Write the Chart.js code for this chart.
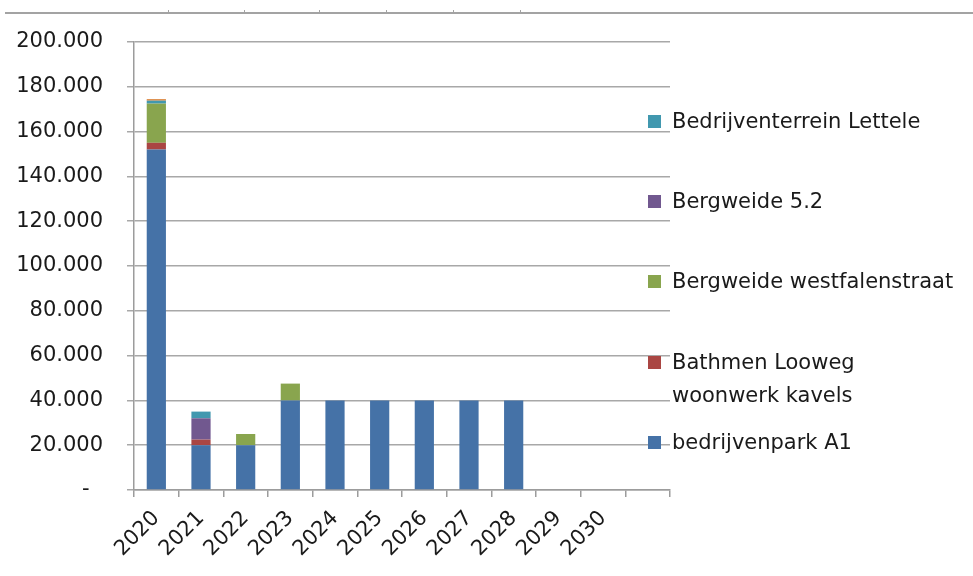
<!DOCTYPE html>
<html>
<head>
<meta charset="utf-8">
<script src="https://cdn.jsdelivr.net/npm/chart.js@4/dist/chart.umd.min.js"></script>
<style>
  html, body { margin: 0; padding: 0; background: #ffffff; }
  #wrap { position: relative; width: 973px; height: 576px; overflow: hidden; }
  #chart { position: absolute; left: 0; top: 0; }
  #legend { position: absolute; left: 0; top: 0; width: 973px; height: 576px; pointer-events: none;
            font-family: "DejaVu Sans", sans-serif; font-size: 21px; color: #1a1a1a; }
  .item { position: absolute; left: 648px; width: 318px; }
  .box { position: absolute; left: 0; width: 13px; height: 13px; }
  .txt { position: absolute; left: 24px; width: 288px; line-height: 33px; }
</style>
</head>
<body>
<div id="wrap">
  <canvas id="chart" width="973" height="576"></canvas>
  <div id="legend"></div>
</div>
<script>
// Jaren op de x-as (laatste vak is leeg)
const years = ['2020', '2021', '2022', '2023', '2024', '2025', '2026', '2027', '2028', '2029', '2030', ''];

// Uitgifte per locatie (m²)
const bedrijvenparkA1 = [152000, 20000, 20000, 40000, 40000, 40000, 40000, 40000, 40000, 0, 0, 0];
const bathmenLooweg = [3000, 2500, 0, 0, 0, 0, 0, 0, 0, 0, 0, 0];
const bergweideWestfalenstraat = [17500, 0, 5000, 7500, 0, 0, 0, 0, 0, 0, 0, 0];
const bergweide52 = [0, 9500, 0, 0, 0, 0, 0, 0, 0, 0, 0, 0];
const lettele = [1300, 3000, 0, 0, 0, 0, 0, 0, 0, 0, 0, 0];
const overig = [700, 0, 0, 0, 0, 0, 0, 0, 0, 0, 0, 0];

// As-instellingen
const yMax = 200000;
const yStep = 20000;

const series = [
  { label: 'bedrijvenpark A1', data: bedrijvenparkA1, color: '#4572A7', legend: true },
  { label: 'Bathmen Looweg woonwerk kavels', data: bathmenLooweg, color: '#AA4643', legend: true },
  { label: 'Bergweide westfalenstraat', data: bergweideWestfalenstraat, color: '#89A54E', legend: true },
  { label: 'Bergweide 5.2', data: bergweide52, color: '#71588F', legend: true },
  { label: 'Bedrijventerrein Lettele', data: lettele, color: '#4198AF', legend: true },
  { label: 'overig', data: overig, color: '#DB843D', legend: false }
];

const FONT = '"DejaVu Sans", sans-serif';

function formatNL(v) {
  if (v === 0) return '-  ';
  return v.toLocaleString('nl-NL');
}

// Dunne grijze lijn langs de bovenrand
const topRule = {
  id: 'topRule',
  afterDraw(chart) {
    const ctx = chart.ctx;
    ctx.save();
    ctx.strokeStyle = '#a3a3a3';
    ctx.lineWidth = 2;
    ctx.beginPath();
    ctx.moveTo(5, 13);
    ctx.lineTo(973, 13);
    ctx.stroke();
    ctx.lineWidth = 1;
    [168, 244, 319, 386, 453, 520].forEach(x => {
      ctx.beginPath();
      ctx.moveTo(x + 0.5, 10);
      ctx.lineTo(x + 0.5, 12);
      ctx.stroke();
    });
    ctx.restore();
  }
};

const chart = new Chart(document.getElementById('chart'), {
  type: 'bar',
  data: {
    labels: years,
    datasets: series.map(s => ({
      label: s.label,
      data: s.data,
      backgroundColor: s.color,
      borderWidth: 0,
      barPercentage: 0.43,
      categoryPercentage: 1.0
    }))
  },
  options: {
    responsive: false,
    animation: false,
    events: [],
    layout: { padding: { left: 0, top: 42, right: 303, bottom: 0 } },
    plugins: { legend: { display: false }, tooltip: { enabled: false } },
    scales: {
      x: {
        stacked: true,
        grid: { drawOnChartArea: false, drawTicks: true, tickLength: 7, color: '#9c9c9c', lineWidth: 1.5, offset: true },
        border: { color: '#9c9c9c', width: 1.5 },
        ticks: {
          font: { family: FONT, size: 21 },
          color: '#1a1a1a',
          minRotation: 45,
          maxRotation: 45,
          padding: 9,
          autoSkip: false
        },
        afterFit(scale) { scale.height = 86; }
      },
      y: {
        stacked: true,
        min: 0,
        max: yMax,
        grid: { color: '#a8a8a8', lineWidth: 1.5, tickLength: 7 },
        border: { color: '#9c9c9c', width: 1.5 },
        ticks: {
          stepSize: yStep,
          font: { family: FONT, size: 21 },
          color: '#1a1a1a',
          padding: 24,
          callback: v => formatNL(v)
        },
        afterFit(scale) { scale.width = 134; }
      }
    }
  },
  plugins: [topRule]
});

// Legenda rechts, bovenste reeks eerst
const legendEl = document.getElementById('legend');
const legendItems = series.filter(s => s.legend).reverse();
const firstRowY = 121;
const rowGap = 80.4;
legendItems.forEach((s, i) => {
  const cy = firstRowY + i * rowGap;
  const item = document.createElement('div');
  item.className = 'item';
  item.style.top = (cy - 16.5) + 'px';
  const box = document.createElement('div');
  box.className = 'box';
  box.style.top = (16.5 - 6.5) + 'px';
  box.style.background = s.color;
  const txt = document.createElement('div');
  txt.className = 'txt';
  txt.style.top = '0px';
  txt.textContent = s.label;
  item.appendChild(box);
  item.appendChild(txt);
  legendEl.appendChild(item);
});
</script>
</body>
</html>
